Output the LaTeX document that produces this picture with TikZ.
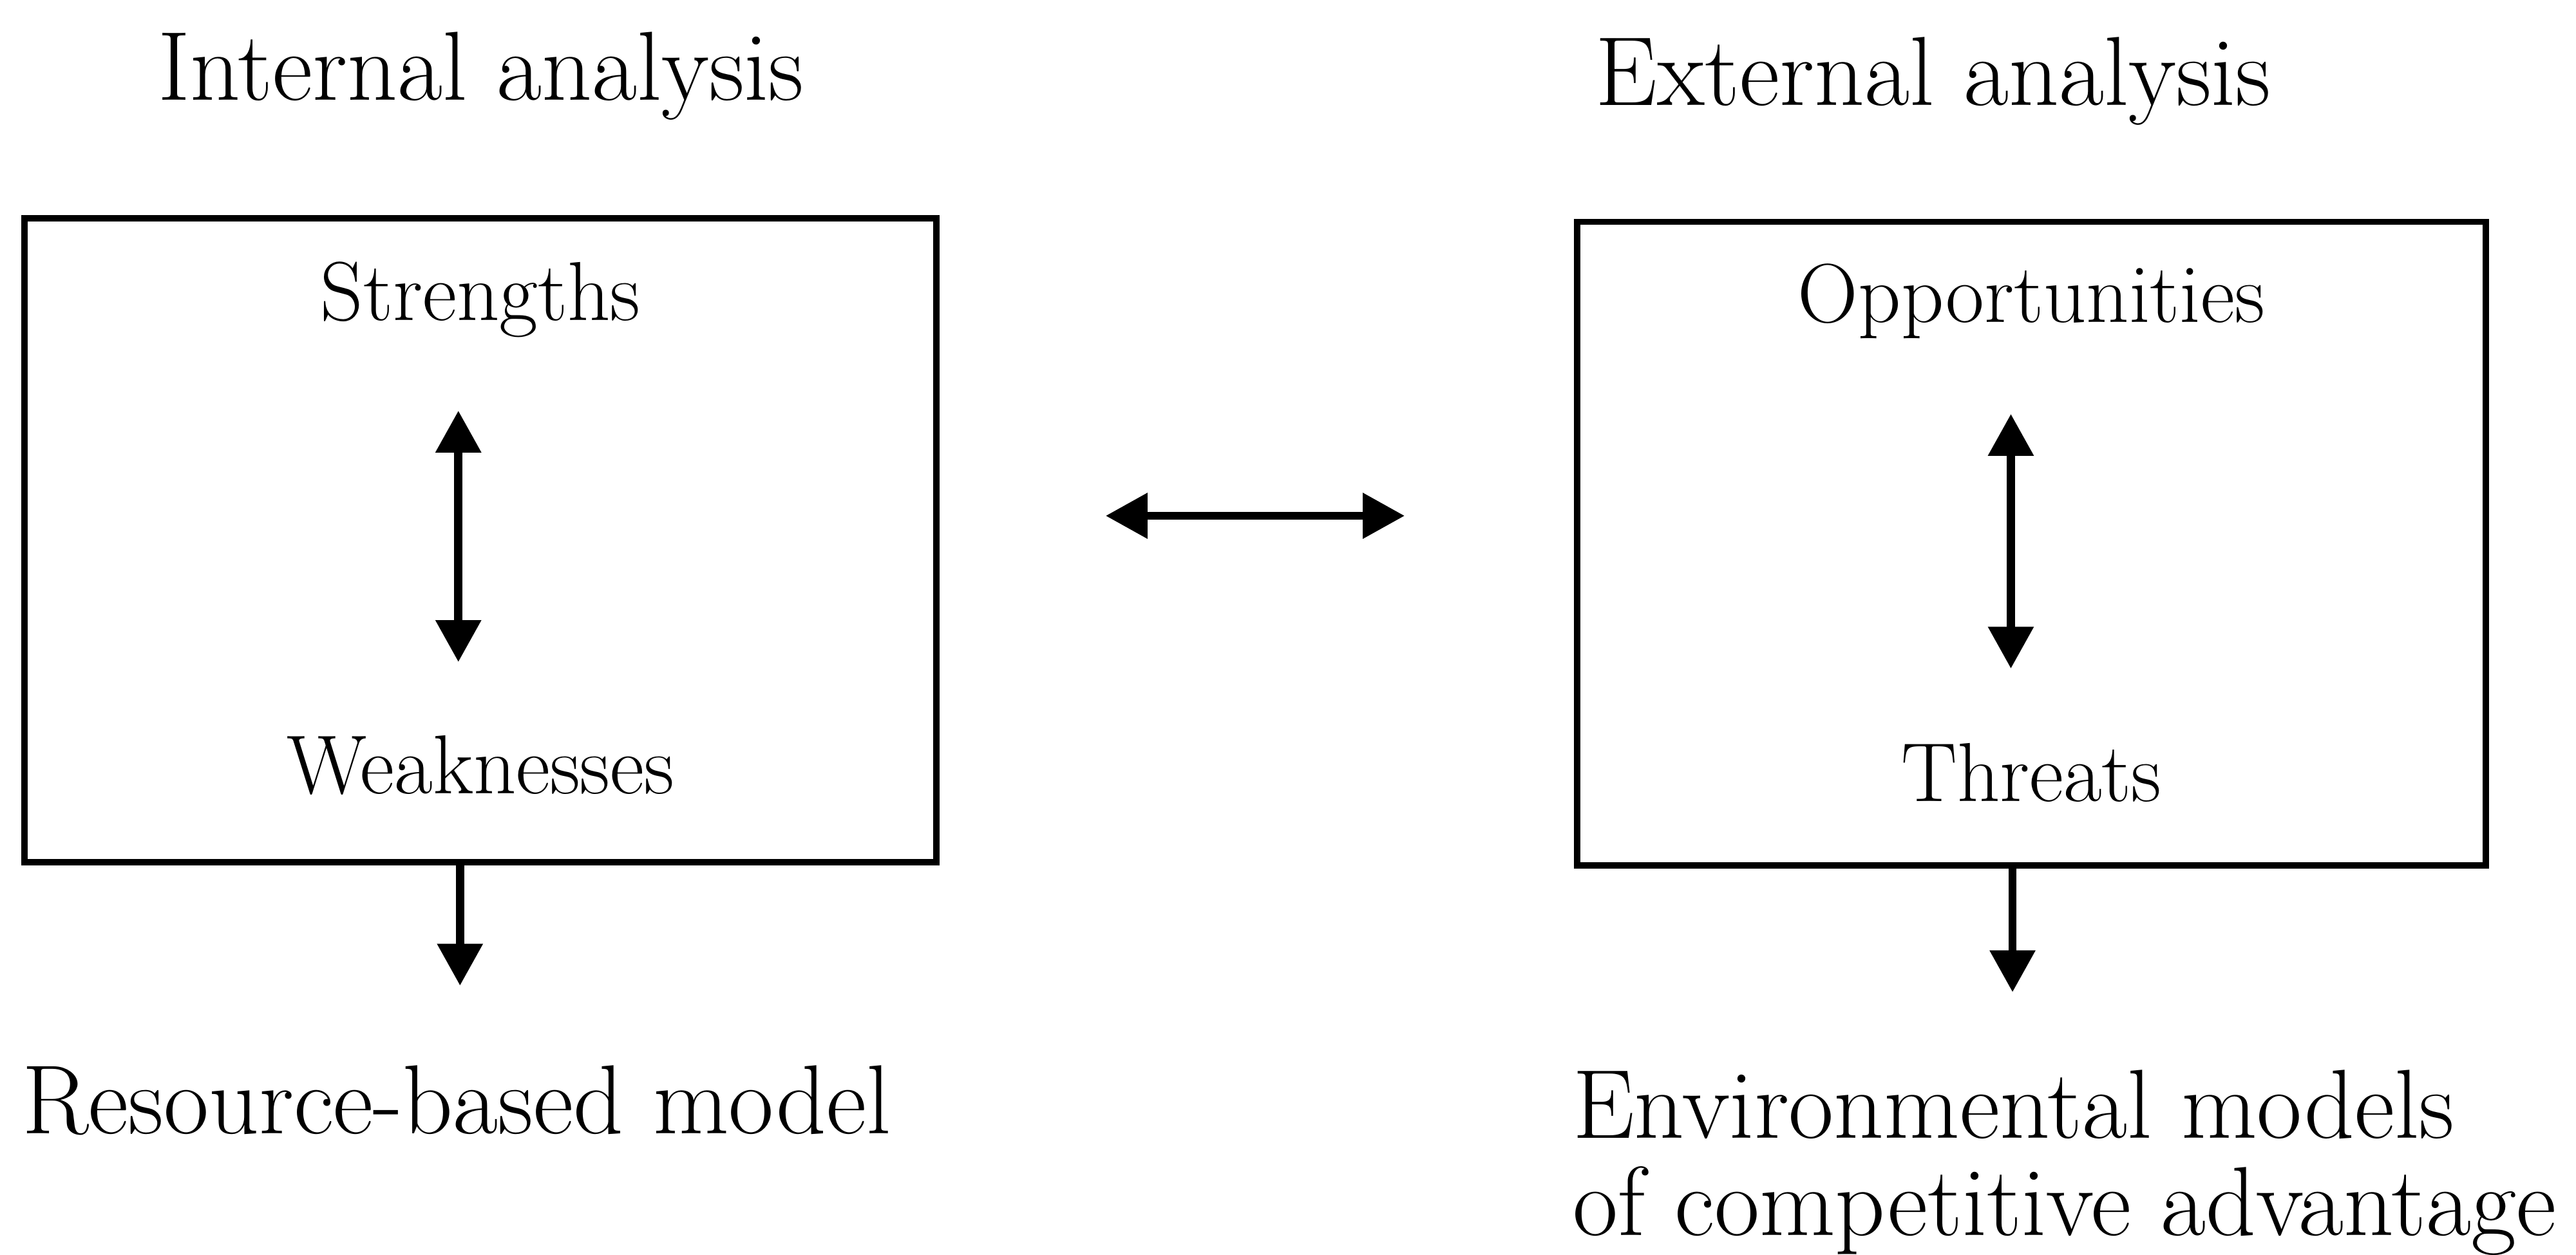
\documentclass[tikz,border=0pt]{standalone}
\usepackage{fontspec}
\usetikzlibrary{arrows.meta}
\begin{document}
\begin{tikzpicture}[
  x=0.02cm, y=-0.02cm,
  panel/.style={draw=black, line width=2.2pt, minimum height=7.84cm, inner sep=0pt},
  head/.style={font=\fontsize{34}{40}\selectfont, anchor=base west, inner sep=0pt},
  item/.style={font=\fontsize{29}{35}\selectfont, anchor=base, inner sep=0pt},
  arr/.style={line width=2.8pt, -{Triangle[length=14.5pt,width=15.2pt]}},
  biarr/.style={line width=2.8pt, {Triangle[length=14.5pt,width=15.2pt]}-{Triangle[length=14.5pt,width=15.2pt]}}
]
  \useasboundingbox (0,0) rectangle (1568,764);

  % Titulos
  \node[head] (inttitle) at (96,61) {Internal analysis};
  \node[head] (exttitle) at (971,64) {External analysis};

  % Cajas
  \node[panel, minimum width=11.1cm] (lbox) at (292.5,329) {};
  \node[panel, minimum width=11.06cm] (rbox) at (1236.5,331) {};

  % Contenido
  \node[item] (str) at (292.5,195) {Strengths};
  \node[item] (weak) at (292.5,483) {Weaknesses};
  \node[item] (opp) at (1236.5,196) {Opportunities};
  \node[item] (thr) at (1236.5,488) {Threats};

  % Resultados
  \node[head] (resmod) at (13,690) {Resource-based model};
  \node[head] (envmod) at (957,693) {Environmental models};
  \node[head] (compadv) at (957,752) {of competitive advantage};

  % Puntos de flechas
  \coordinate (ltop) at (279,250);
  \coordinate (lbot) at (279,403);
  \coordinate (rtop) at (1224,252);
  \coordinate (rbot) at (1224,407);
  \coordinate (lout) at (280,600);
  \coordinate (rout) at (1225,604);
  \coordinate (mleft) at (673,314);
  \coordinate (mright) at (855,314);

  % Flechas
  \draw[biarr] (ltop) -- (lbot);
  \draw[biarr] (rtop) -- (rbot);
  \draw[biarr] (mleft) -- (mright);
  \draw[arr] (lbox.south -| lout) -- (lout);
  \draw[arr] (rbox.south -| rout) -- (rout);
\end{tikzpicture}
\end{document}
